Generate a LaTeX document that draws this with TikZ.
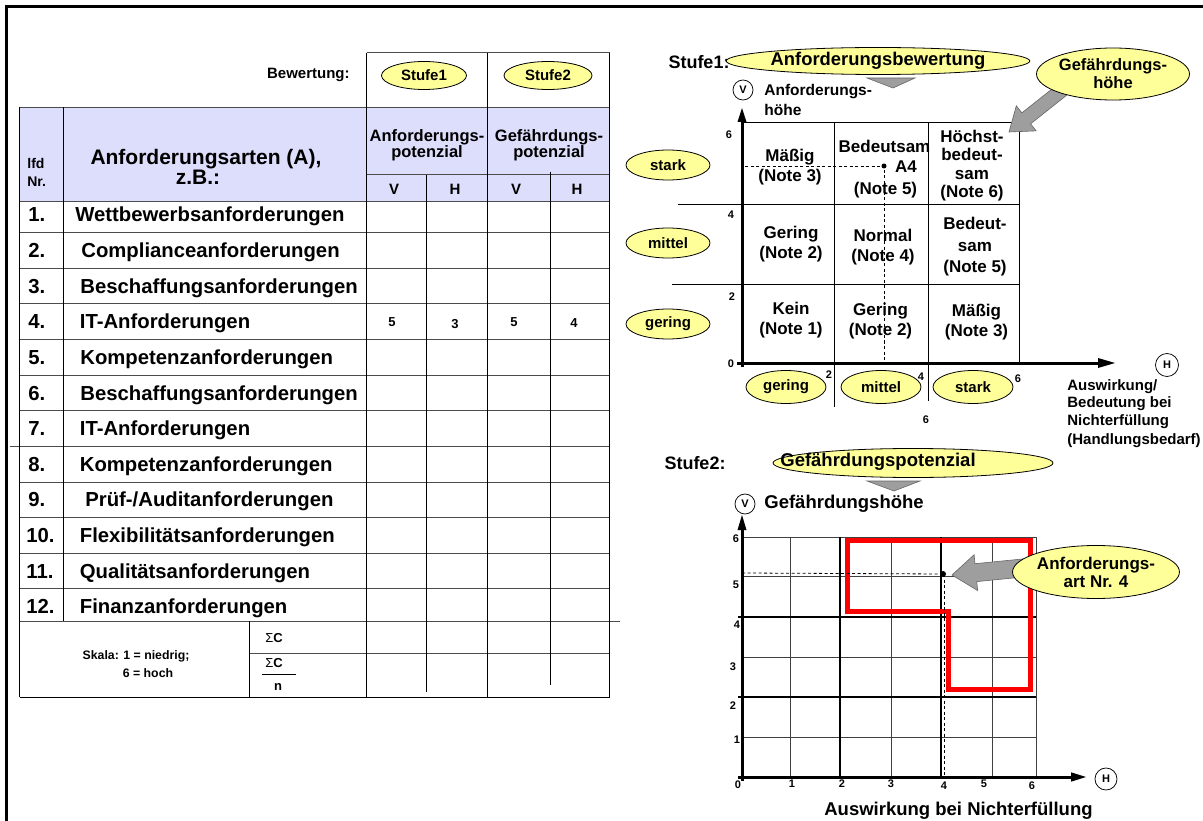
\documentclass[tikz,border=0pt]{standalone}
\usepackage{fontspec}
\setmainfont{Liberation Sans}
\usetikzlibrary{shapes.geometric,calc}

\definecolor{ovalyellow}{RGB}{255,255,153}
\definecolor{headblue}{RGB}{221,221,252}
\definecolor{pointgrey}{RGB}{158,158,158}

\tikzset{every picture/.style={line width=0.75pt}}
\tikzset{
  oval/.style={ellipse, draw, fill=ovalyellow, inner sep=0pt, line width=0.8},
  ring/.style={circle, draw, inner sep=0pt, minimum size=20, font=\fontsize{11}{12}\selectfont\bfseries},
  tick/.style={inner sep=0pt, font=\fontsize{11}{12}\selectfont\bfseries},
  rowtxt/.style={anchor=base west, inner sep=0pt, font=\fontsize{20.3}{22}\selectfont\bfseries},
  celltxt/.style={inner sep=0pt, align=center, font=\fontsize{17}{20}\selectfont\bfseries},
  tabline/.style={line width=1},
  rowline/.style={line width=1, black!70},
  gridthin/.style={line width=1, black!75},
  gridthick/.style={line width=2.6},
  pointer/.style={fill=pointgrey, draw=black!60, line width=0.6},
  helpline/.style={line width=0.8, dash pattern=on 3pt off 2.5pt},
}

% grey block arrow: tail, tip, half shaft, half head, head length
\newcommand{\blockarr}[5]{%
  \coordinate (#1-b) at ($(#2)!#5!(#1)$);
  \draw[pointer] ($(#1)!#3!90:(#2)$) -- ($(#1-b)!#3!90:(#2)$) -- ($(#1-b)!#4!90:(#2)$) -- (#2) -- ($(#1-b)!#4!-90:(#2)$) -- ($(#1-b)!#3!-90:(#2)$) -- ($(#1)!#3!-90:(#2)$) -- cycle;
}

\begin{document}
\begin{tikzpicture}[x=1pt,y=1pt,yscale=-1]
\useasboundingbox (0,0) rectangle (1203,821);

%Frame
\draw[line width=3] (5,7) -- (1203,7);
\draw[line width=3] (6.5,5.5) -- (6.5,821);

%%%%%%%%%%%%%%%% table %%%%%%%%%%%%%%%%
%Shape: Rectangle (header fill)
\fill[headblue] (19.5,107.5) rectangle (609.5,202);

%Straight Lines (rows)
\draw[rowline] (366.5,52.7) -- (609.5,52.7);
\draw[rowline] (19.5,107.5) -- (609.5,107.5);
\draw[rowline] (366.5,175) -- (609.5,175);
\draw[rowline] (19.5,202) -- (609.5,202);
\draw[rowline] (19.5,232.8) -- (609.5,232.8) (19.5,268.4) -- (609.5,268.4) (19.5,304) -- (609.5,304)
  (19.5,339.6) -- (609.5,339.6) (19.5,375.2) -- (609.5,375.2) (19.5,410.8) -- (609.5,410.8)
  (10,446.4) -- (609.5,446.4) (19.5,482) -- (609.5,482) (19.5,517.6) -- (609.5,517.6)
  (19.5,553.2) -- (609.5,553.2) (19.5,588.8) -- (609.5,588.8);
\draw[rowline] (19.5,621) -- (620,621);
\draw[rowline] (249.5,653) -- (609.5,653);
\draw[tabline] (19.5,697) -- (609.5,697);

%Straight Lines (columns)
\draw[tabline] (19.5,107.5) -- (19.5,697);
\draw[tabline] (63.5,107.5) -- (63.5,621);
\draw[tabline] (249.5,621) -- (249.5,697);
\draw[tabline] (366.5,52.7) -- (366.5,697);
\draw[tabline] (426,175) -- (426,692);
\draw[tabline] (487.7,52.7) -- (487.7,697);
\draw[tabline] (550,172) -- (550,685);
\draw[tabline] (609.5,52.7) -- (609.5,697);

% Text Node
\node[anchor=east, inner sep=0pt, font=\fontsize{15}{17}\selectfont\bfseries] (bew) at (350,75) {Bewertung:};
\node[oval, minimum width=85, minimum height=28, font=\fontsize{15}{17}\selectfont\bfseries] (st1) at (424,75.5) {Stufe1};
\node[oval, minimum width=88, minimum height=28, font=\fontsize{15}{17}\selectfont\bfseries] (st2) at (548,75.5) {Stufe2};

\node[anchor=base west, inner sep=0pt, font=\fontsize{14}{16}\selectfont\bfseries] (lfd) at (27,169) {lfd};
\node[anchor=base west, inner sep=0pt, font=\fontsize{14}{16}\selectfont\bfseries] (nr) at (27,187) {Nr.};
\node[inner sep=0pt, font=\fontsize{21}{23}\selectfont\bfseries] (arten) at (206,159) {Anforderungsarten (A),};
\node[inner sep=0pt, font=\fontsize{21}{23}\selectfont\bfseries] (zb) at (198,177) {z.B.:};
\node[inner sep=0pt, font=\fontsize{16.5}{18}\selectfont\bfseries] (apot1) at (427,137) {Anforderungs-};
\node[inner sep=0pt, font=\fontsize{16.5}{18}\selectfont\bfseries] (apot2) at (427,153) {potenzial};
\node[inner sep=0pt, font=\fontsize{16.5}{18}\selectfont\bfseries] (gpot1) at (549,137) {Gefährdungs-};
\node[inner sep=0pt, font=\fontsize{16.5}{18}\selectfont\bfseries] (gpot2) at (549,153) {potenzial};
\node[inner sep=0pt, font=\fontsize{15}{17}\selectfont\bfseries] (va) at (394,189) {V};
\node[inner sep=0pt, font=\fontsize{15}{17}\selectfont\bfseries] (ha) at (455,189) {H};
\node[inner sep=0pt, font=\fontsize{15}{17}\selectfont\bfseries] (vg) at (516,189) {V};
\node[inner sep=0pt, font=\fontsize{15}{17}\selectfont\bfseries] (hg) at (577,189) {H};

% Text Node (rows)
\node[rowtxt] (n1) at (28,222) {1.};
\node[rowtxt] (n2) at (28,257.6) {2.};
\node[rowtxt] (n3) at (28,293.2) {3.};
\node[rowtxt] (n4) at (28,328.8) {4.};
\node[rowtxt] (n5) at (28,364.4) {5.};
\node[rowtxt] (n6) at (28,400) {6.};
\node[rowtxt] (n7) at (28,435.6) {7.};
\node[rowtxt] (n8) at (28,471.2) {8.};
\node[rowtxt] (n9) at (28,506.8) {9.};
\node[rowtxt] (n10) at (26,542.4) {10.};
\node[rowtxt] (n11) at (26,578) {11.};
\node[rowtxt] (n12) at (26,613.6) {12.};
\node[rowtxt] (a1) at (75,222) {Wettbewerbsanforderungen};
\node[rowtxt] (a2) at (81,257.6) {Complianceanforderungen};
\node[rowtxt] (a3) at (80,293.2) {Beschaffungsanforderungen};
\node[rowtxt] (a4) at (79.5,328.8) {IT-Anforderungen};
\node[rowtxt] (a5) at (80,364.4) {Kompetenzanforderungen};
\node[rowtxt] (a6) at (80,400) {Beschaffungsanforderungen};
\node[rowtxt] (a7) at (79.5,435.6) {IT-Anforderungen};
\node[rowtxt] (a8) at (79.5,471.2) {Kompetenzanforderungen};
\node[rowtxt] (a9) at (85,506.8) {Prüf-/Auditanforderungen};
\node[rowtxt] (a10) at (79.5,542.4) {Flexibilitätsanforderungen};
\node[rowtxt] (a11) at (79.5,578) {Qualitätsanforderungen};
\node[rowtxt] (a12) at (79.5,613.6) {Finanzanforderungen};

\node[inner sep=0pt, font=\fontsize{13}{15}\selectfont\bfseries] (w4va) at (392,322) {5};
\node[inner sep=0pt, font=\fontsize{13}{15}\selectfont\bfseries] (w4ha) at (455,324) {3};
\node[inner sep=0pt, font=\fontsize{13}{15}\selectfont\bfseries] (w4vg) at (514,322) {5};
\node[inner sep=0pt, font=\fontsize{13}{15}\selectfont\bfseries] (w4hg) at (574,323) {4};

\node[inner sep=0pt, font=\fontsize{12.3}{14}\selectfont\bfseries] (skala1) at (136,656) {Skala: 1 = niedrig;};
\node[inner sep=0pt, font=\fontsize{12.3}{14}\selectfont\bfseries] (skala2) at (148,673) {6 = hoch};
\node[inner sep=0pt, font=\fontsize{13}{15}\selectfont\bfseries] (sum1) at (274,638) {{\mdseries Σ}C};
\node[inner sep=0pt, font=\fontsize{13}{15}\selectfont\bfseries] (sum2) at (274,663) {{\mdseries Σ}C};
\draw[line width=1] (262,674) -- (296,674);
\node[inner sep=0pt, font=\fontsize{13}{15}\selectfont\bfseries] (sumn) at (278,687) {n};

%%%%%%%%%%%%%%%% Stufe 1 %%%%%%%%%%%%%%%%
\node[inner sep=0pt, font=\fontsize{18}{20}\selectfont\bfseries] (stufe1) at (699,62) {Stufe1:};
\draw[pointer] (867,78) -- (915,78) -- (893,88) -- cycle;
\node[oval, minimum width=268, minimum height=27, font=\fontsize{18.4}{20}\selectfont\bfseries] (anfbew) at (878,61) {Anforderungsbewertung};

%Straight Lines (matrix)
\draw[tabline] (743,123) -- (1019,123) -- (1019,363);
\draw[tabline] (678,205) -- (1019,205);
\draw[tabline] (672,285) -- (1019,285);
\draw[tabline] (834,123) -- (834,407);
\draw[tabline] (928,123) -- (928,401);

%Dashed lines
\node[circle, fill, inner sep=0pt, minimum size=5] (dot1) at (884,166) {};
\coordinate (d1l) at (745,166);
\coordinate (d1b) at (884,363);
\draw[helpline] (d1l) -- (dot1.center) -- (d1b);

%Axes
\coordinate (ax1o) at (742,367);
\coordinate (ax1v) at (742,122);
\coordinate (ax1h) at (1098,363);
\draw[line width=3] (ax1o) -- (ax1v);
\fill (742,108) -- (737.5,122) -- (746.5,122) -- cycle;
\draw[line width=3] (737,363) -- (ax1h);
\fill (1115,363) -- (1098,358) -- (1098,368) -- cycle;
\node[ring] (v1) at (743,90) {V};
\node[ring, minimum size=23] (h1) at (1167,365) {H};

% Text Node
\node[anchor=west, inner sep=0pt, font=\fontsize{15.5}{17}\selectfont\bfseries] (anfh1) at (764,92) {Anforderungs-};
\node[anchor=west, inner sep=0pt, font=\fontsize{15.5}{17}\selectfont\bfseries] (anfh2) at (764,110) {höhe};
\node[tick] (t6) at (729,135) {6};
\node[tick] (t4) at (731,215) {4};
\node[tick] (t2) at (732,297) {2};
\node[tick] (t0) at (731,364) {0};
\node[tick] (b2) at (829,375) {2};
\node[tick] (b4) at (921,377) {4};
\node[tick] (b6) at (1018,379) {6};
\node[tick] (b6u) at (926,420) {6};

\node[oval, minimum width=84, minimum height=30, font=\fontsize{15}{17}\selectfont\bfseries] (lstark) at (668,165) {stark};
\node[oval, minimum width=84, minimum height=30, font=\fontsize{15}{17}\selectfont\bfseries] (lmittel) at (668,243) {mittel};
\node[oval, minimum width=84, minimum height=30, font=\fontsize{15}{17}\selectfont\bfseries] (lgering) at (668,324) {gering};
\node[oval, minimum width=80, minimum height=33, font=\fontsize{15}{17}\selectfont\bfseries] (ugering) at (786,387) {gering};
\node[oval, minimum width=80, minimum height=33, font=\fontsize{15}{17}\selectfont\bfseries] (umittel) at (881,387) {mittel};
\node[oval, minimum width=80, minimum height=33, font=\fontsize{15}{17}\selectfont\bfseries] (ustark) at (973,387) {stark};

\node[celltxt] (c13) at (790,167.5) {Mäßig\\(Note 3)};
\node[celltxt] (c23a) at (884.5,146.7) {Bedeutsam};
\node[celltxt] (a4lbl) at (906,166.7) {A4};
\node[celltxt] (c23b) at (885.5,190) {(Note 5)};
\node[celltxt, font=\fontsize{17}{18.5}\selectfont\bfseries] (c33) at (972,165.7) {Höchst-\\bedeut-\\sam\\(Note 6)};
\node[celltxt] (c12) at (791,244) {Gering\\(Note 2)};
\node[celltxt] (c22) at (883,247.5) {Normal\\(Note 4)};
\node[celltxt, font=\fontsize{17}{21.5}\selectfont\bfseries] (c32) at (975,246.7) {Bedeut-\\sam\\(Note 5)};
\node[celltxt] (c11) at (791,320) {Kein\\(Note 1)};
\node[celltxt] (c21) at (880.5,320.7) {Gering\\(Note 2)};
\node[celltxt] (c31) at (976.5,322.5) {Mäßig\\(Note 3)};

\node[anchor=west, inner sep=0pt, font=\fontsize{15}{17}\selectfont\bfseries] (ausw1) at (1067,387) {Auswirkung/};
\node[anchor=west, inner sep=0pt, font=\fontsize{15}{17}\selectfont\bfseries] (ausw2) at (1067,404) {Bedeutung bei};
\node[anchor=west, inner sep=0pt, font=\fontsize{15}{17}\selectfont\bfseries] (ausw3) at (1067,422) {Nichterfüllung};
\node[anchor=west, inner sep=0pt, font=\fontsize{15}{17}\selectfont\bfseries] (ausw4) at (1067,441) {(Handlungsbedarf)};

%Block arrow
\coordinate (gefh-tail) at (1062,90);
\coordinate (gefh-tip) at (1009,132);
\blockarr{gefh-tail}{gefh-tip}{7pt}{16pt}{22pt}
\node[oval, minimum width=120, minimum height=52, align=center, font=\fontsize{16.5}{18}\selectfont\bfseries] (gefh) at (1113,74) {Gefährdungs-\\höhe};

%%%%%%%%%%%%%%%% Stufe 2 %%%%%%%%%%%%%%%%
\node[inner sep=0pt, font=\fontsize{18}{20}\selectfont\bfseries] (stufe2) at (695,463) {Stufe2:};
\draw[pointer] (867,481) -- (920,481) -- (894,491) -- cycle;
\node[oval, minimum width=280, minimum height=29] (gefpot) at (913,463) {};
\node[inner sep=0pt, font=\fontsize{18.5}{20}\selectfont\bfseries] (gefpottxt) at (878,462) {Gefährdungspotenzial};

%Grid
\draw[gridthin] (790,537) -- (790,777) (891,537) -- (891,777) (992,537) -- (992,777) (1036,537) -- (1036,777);
\draw[gridthin] (742,537) -- (1036,537) (742,576) -- (1036,576) (742,657) -- (1036,657) (742,737) -- (1036,737);
\draw[gridthick] (840,537) -- (840,777) (941,537) -- (941,777);
\draw[gridthick] (738,617) -- (1036,617) (738,697) -- (1036,697);

%Red border
\draw[red, line width=5, line join=miter] (847,540) -- (1030,540) -- (1030,689) -- (948,689) -- (948,611) -- (847,611) -- cycle;

%Dashed lines
\node[circle, fill, inner sep=0pt, minimum size=6] (dot2) at (943,574) {};
\coordinate (d2l) at (742,573);
\coordinate (d2b) at (944,777);
\draw[helpline] (d2l) -- (dot2.center);
\draw[helpline] (944,574) -- (d2b);

%Axes
\coordinate (ax2o) at (742,781);
\coordinate (ax2v) at (742,530);
\coordinate (ax2h) at (1072,777);
\draw[line width=3] (ax2o) -- (ax2v);
\fill (742,515) -- (737.5,530) -- (746.5,530) -- cycle;
\draw[line width=3] (738,777) -- (ax2h);
\fill (1086,777) -- (1071,772.3) -- (1071,781.7) -- cycle;
\node[ring] (v2) at (745,504) {V};
\node[ring, minimum size=22] (h2) at (1106,779) {H};

% Text Node
\node[anchor=west, inner sep=0pt, font=\fontsize{18.5}{20}\selectfont\bfseries] (gefhoehe) at (764,504) {Gefährdungshöhe};
\node[tick] (g6) at (736,539) {6};
\node[tick] (g5) at (736,585) {5};
\node[tick] (g4) at (737,625) {4};
\node[tick] (g3) at (733,667) {3};
\node[tick] (g2) at (733,706) {2};
\node[tick] (g1) at (737,740) {1};
\node[tick] (g0) at (738,785) {0};
\node[tick] (x1) at (792,784) {1};
\node[tick] (x2) at (842,784) {2};
\node[tick] (x3) at (891,784) {3};
\node[tick] (x4) at (944,786) {4};
\node[tick] (x5) at (984,784) {5};
\node[tick] (x6) at (1032,786) {6};
\node[anchor=west, inner sep=0pt, font=\fontsize{18.5}{20}\selectfont\bfseries] (auswn) at (824,811) {Auswirkung bei Nichterfüllung};

%Block arrow
\coordinate (anfart-tail) at (1033,567);
\coordinate (anfart-tip) at (952,575);
\blockarr{anfart-tail}{anfart-tip}{9pt}{18pt}{24pt}
\node[oval, minimum width=132, minimum height=53, align=center, font=\fontsize{17}{18}\selectfont\bfseries] (anfart) at (1096,572) {Anforderungs-\\art Nr. 4};

\end{tikzpicture}
\end{document}
